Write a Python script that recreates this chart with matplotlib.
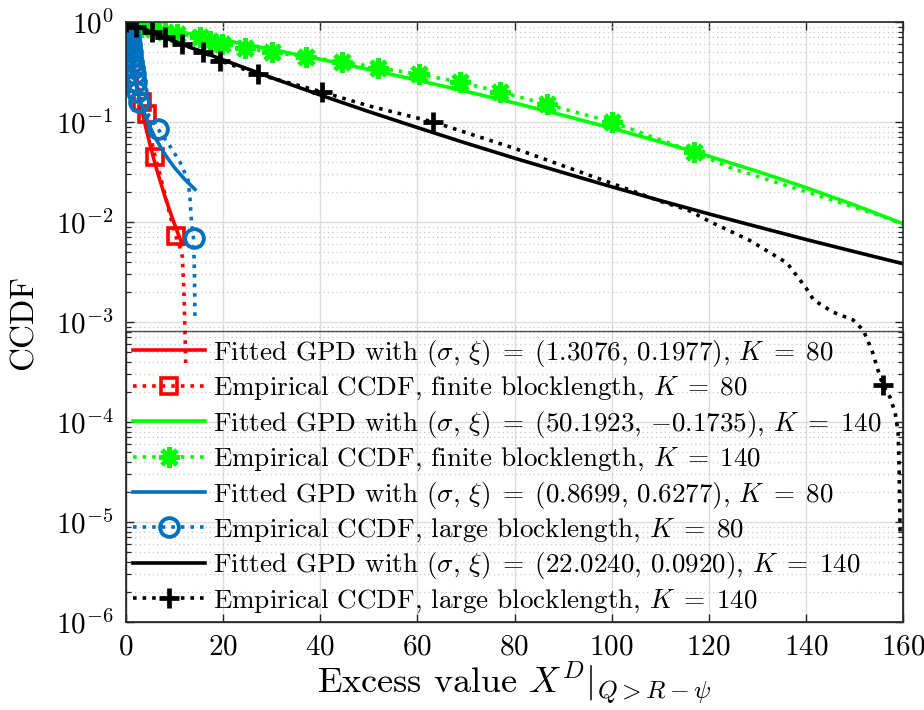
import numpy as np
import matplotlib
matplotlib.use("Agg")
import matplotlib.pyplot as plt
from matplotlib.legend_handler import HandlerTuple
from matplotlib.ticker import LogLocator, NullFormatter

plt.rcParams['font.family'] = 'serif'
plt.rcParams['font.serif'] = ['cmr10', 'DejaVu Serif']
plt.rcParams['mathtext.fontset'] = 'cm'
plt.rcParams['axes.formatter.use_mathtext'] = True
plt.rcParams['axes.unicode_minus'] = False

# ---------------- data ----------------
# Red: finite blocklength, K=80
red_fit_x = [0, 0.5, 1, 1.5, 2, 3, 4, 5, 6, 7, 8, 9, 10, 11, 11.6]
red_fit_y = [1, 0.692, 0.491, 0.356, 0.263, 0.151, 0.0914, 0.058, 0.0381, 0.026,
             0.0181, 0.0130, 0.00948, 0.00705, 0.00595]
red_emp_x = [0, 0.5, 1, 1.5, 2, 2.5, 3.3, 4.3, 5, 6.0, 7, 8, 9, 10.2, 11.0, 11.6,
             11.9, 12.1, 12.3]
red_emp_y = [1, 0.75, 0.55, 0.42, 0.32, 0.23, 0.16, 0.12, 0.075, 0.045, 0.03, 0.019,
             0.012, 0.0073, 0.0058, 0.0045, 0.0022, 0.001, 0.00038]
red_mk_x = [3.3, 4.3, 6.0, 10.2]
red_mk_y = [0.16, 0.12, 0.045, 0.0073]

# Green: finite blocklength, K=140
green_fit_x = [0, 10, 20, 30, 40, 50, 60, 70, 80, 90, 100, 110, 120, 130, 140, 150, 160]
green_fit_y = [1, 0.816, 0.662, 0.532, 0.424, 0.335, 0.262, 0.2025, 0.155, 0.1167,
               0.0867, 0.0634, 0.0455, 0.0321, 0.0221, 0.0148, 0.00963]
green_emp_x = [0, 1.5, 3, 5.5, 8, 10.5, 13, 15.2, 17.3, 19.7, 24.5, 30, 37.1, 44.4,
               51.9, 60.3, 68.8, 77.1, 86.6, 100.1, 108, 116.9, 125, 135, 145, 155, 160]
green_emp_y = [1, 0.95, 0.9, 0.85, 0.8, 0.75, 0.72, 0.7, 0.65, 0.6, 0.55, 0.5, 0.45,
               0.4, 0.35, 0.3, 0.25, 0.2, 0.15, 0.1, 0.072, 0.05, 0.034, 0.024, 0.0168,
               0.0117, 0.0095]
green_mk_x = [0, 1.5, 3, 5.5, 8, 10.5, 15.2, 17.3, 19.7, 24.5, 30, 37.1, 44.4, 51.9,
              60.3, 68.8, 77.1, 86.6, 100.1, 116.9]
green_mk_y = [1, 0.95, 0.9, 0.85, 0.8, 0.75, 0.7, 0.65, 0.6, 0.55, 0.5, 0.45, 0.4,
              0.35, 0.3, 0.25, 0.2, 0.15, 0.1, 0.05]

# Blue: large blocklength, K=80
blue_fit_x = [0, 0.25, 0.5, 1, 1.5, 2, 3, 4, 5, 6, 8, 10, 12, 14.2]
blue_fit_y = [1, 0.768, 0.612, 0.421, 0.311, 0.241, 0.160, 0.115, 0.0877, 0.0696,
              0.0475, 0.0349, 0.0270, 0.0212]
blue_emp_x = [0, 0.15, 0.3, 0.45, 0.55, 0.7, 0.8, 0.9, 1.0, 1.1, 1.2, 1.3, 1.4, 1.6,
              1.8, 2.0, 2.3, 2.6, 4.5, 6.6, 8.6, 11.1, 12.8, 13.2, 13.5, 13.9, 14.1, 14.2]
blue_emp_y = [1, 0.95, 0.9, 0.85, 0.8, 0.75, 0.7, 0.65, 0.6, 0.55, 0.5, 0.45, 0.4,
              0.35, 0.3, 0.25, 0.2, 0.16, 0.12, 0.085, 0.062, 0.04, 0.026, 0.0166,
              0.0098, 0.0069, 0.003, 0.0011]
blue_mk_x = [0, 0.15, 0.3, 0.45, 0.55, 0.7, 0.8, 0.9, 1.0, 1.1, 1.2, 1.3, 1.4, 1.6,
             1.8, 2.0, 2.3, 2.6, 6.6, 13.9]
blue_mk_y = [1, 0.95, 0.9, 0.85, 0.8, 0.75, 0.7, 0.65, 0.6, 0.55, 0.5, 0.45, 0.4,
             0.35, 0.3, 0.25, 0.2, 0.16, 0.085, 0.0069]

# Black: large blocklength, K=140
black_fit_x = [0, 5, 10, 20, 30, 40, 50, 60, 70, 80, 90, 100, 110, 120, 130, 140, 150, 160]
black_fit_y = [1, 0.799, 0.641, 0.418, 0.277, 0.186, 0.127, 0.088, 0.0615, 0.0435,
               0.0312, 0.0225, 0.0164, 0.01206, 0.00897, 0.00669, 0.00505, 0.00383]
black_emp_x = [0, 2, 5.3, 8, 11.5, 15.8, 19.4, 27.2, 40.3, 50, 63.3, 80, 100, 110.2,
               115.7, 120.4, 128.3, 136.1, 140, 141.6, 145.5, 149.7, 151.8, 153.6,
               155.3, 155.9, 157.3, 158.4, 159.0, 159.2, 159.4]
black_emp_y = [1, 0.9, 0.8, 0.7, 0.6, 0.5, 0.41, 0.3, 0.2, 0.145, 0.1, 0.0545, 0.0244,
               0.016, 0.0132, 0.01, 0.0066, 0.0039, 0.0022, 0.00166, 0.00126, 0.00105,
               0.00083, 0.00052, 0.00028, 0.000234, 0.000178, 0.000123, 7.8e-5,
               3.5e-5, 8e-6]
black_mk_x = [0, 2, 5.3, 8, 11.5, 15.8, 19.4, 27.2, 40.3, 63.3, 155.9]
black_mk_y = [1, 0.9, 0.8, 0.7, 0.6, 0.5, 0.41, 0.3, 0.2, 0.1, 0.000234]

labels = [
    r'Fitted GPD with $(\sigma,\,\xi)\;=\;(1.3076,\,0.1977)$, $K\;=\;80$',
    r'Empirical CCDF, finite blocklength, $K\;=\;80$',
    r'Fitted GPD with $(\sigma,\,\xi)\;=\;(50.1923,\,{-0.1735})$, $K\;=\;140$',
    r'Empirical CCDF, finite blocklength, $K\;=\;140$',
    r'Fitted GPD with $(\sigma,\,\xi)\;=\;(0.8699,\,0.6277)$, $K\;=\;80$',
    r'Empirical CCDF, large blocklength, $K\;=\;80$',
    r'Fitted GPD with $(\sigma,\,\xi)\;=\;(22.0240,\,0.0920)$, $K\;=\;140$',
    r'Empirical CCDF, large blocklength, $K\;=\;140$',
]

RED = (1, 0, 0)
GREEN = (0, 1, 0)
BLUE = '#0072BD'
BLACK = 'black'

fig = plt.figure(figsize=(9.24, 7.10), dpi=100)
ax = fig.add_axes([126 / 924, 1 - 622 / 710, (903 - 126) / 924, 600 / 710])

lw = 2.6
handles = []

def fit(x, y, c):
    l, = ax.plot(x, y, '-', color=c, lw=lw)
    handles.append(l)

def emp(x, y, mx, my, c, marker, ms, mew, mfc='none'):
    l, = ax.plot(x, y, linestyle=':', color=c, lw=lw)
    m, = ax.plot(mx, my, linestyle='none', marker=marker, ms=ms, mew=mew,
                 mec=c, mfc=mfc, color=c)
    handles.append((l, m))

fit(red_fit_x, red_fit_y, RED)
emp(red_emp_x, red_emp_y, red_mk_x, red_mk_y, RED, 's', 11.5, 2.6)
fit(green_fit_x, green_fit_y, GREEN)
emp(green_emp_x, green_emp_y, green_mk_x, green_mk_y, GREEN, (8, 2, 0), 15, 3.4)
fit(blue_fit_x, blue_fit_y, BLUE)
emp(blue_emp_x, blue_emp_y, blue_mk_x, blue_mk_y, BLUE, 'o', 13.5, 2.8)
fit(black_fit_x, black_fit_y, BLACK)
emp(black_emp_x, black_emp_y, black_mk_x, black_mk_y, BLACK, '+', 15, 3.4)

ax.set_yscale('log')
ax.set_xlim(0, 160)
ax.set_ylim(1e-6, 1)
ax.set_xticks(np.arange(0, 161, 20))
ax.yaxis.set_major_locator(LogLocator(base=10, numticks=10))
ax.yaxis.set_minor_locator(LogLocator(base=10, subs=np.arange(2, 10), numticks=20))
ax.yaxis.set_minor_formatter(NullFormatter())

ax.grid(True, which='major', color='#dcdcdc', lw=1.0, ls='-')
ax.grid(True, which='minor', axis='y', color='#c8c8c8', lw=0.9, ls=(0, (1, 2.5)))
ax.set_axisbelow(True)

ax.tick_params(which='both', direction='in', top=True, right=True, colors='#262626',
               labelcolor='black')
ax.tick_params(which='major', length=6, width=1.0, labelsize=21, pad=9)
ax.tick_params(which='minor', length=3.5, width=0.9)
for s in ax.spines.values():
    s.set_color('#262626')
    s.set_linewidth(1.2)

ax.set_ylabel('CCDF', fontsize=24)
ax.yaxis.set_label_coords(-0.112, 0.5)
ax.set_xlabel(r'Excess value $X^D|_{Q>R-\psi}$', fontsize=26)
ax.xaxis.set_label_coords(0.5, -0.062)

leg = ax.legend(handles, labels, loc='lower left', mode='expand',
                bbox_to_anchor=(0, 0, 1, (622 - 333) / 600), borderaxespad=0,
                fontsize=19.5, handlelength=2.65, handletextpad=0.3,
                labelspacing=0.23, borderpad=0.26, numpoints=1, fancybox=False,
                edgecolor='#262626',
                handler_map={tuple: HandlerTuple(ndivide=1, pad=0)})
leg.get_frame().set_facecolor('none')
leg.get_frame().set_linewidth(1.0)

fig.savefig('out.png', dpi=100)
